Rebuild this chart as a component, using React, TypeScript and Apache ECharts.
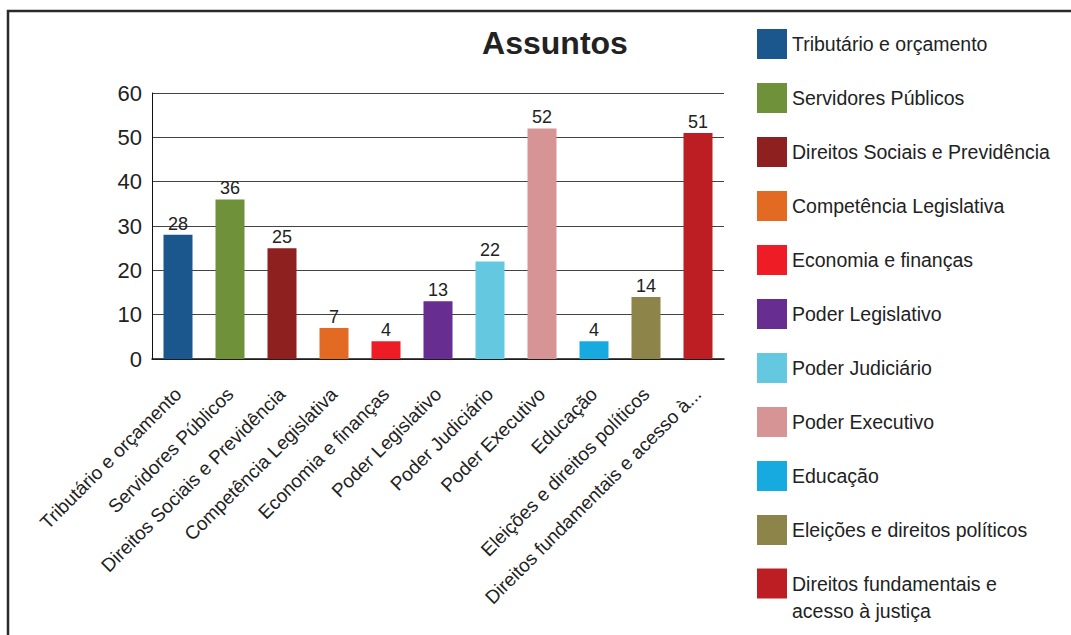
import React, { useEffect, useRef } from "react";
import * as echarts from "echarts";

const categories = [
  "Tributário e orçamento",
  "Servidores Públicos",
  "Direitos Sociais e Previdência",
  "Competência Legislativa",
  "Economia e finanças",
  "Poder Legislativo",
  "Poder Judiciário",
  "Poder Executivo",
  "Educação",
  "Eleições e direitos políticos",
  "Direitos fundamentais e acesso à justiça",
];
const values = [28, 36, 25, 7, 4, 13, 22, 52, 4, 14, 51];
const colors = [
  "#1B578C",
  "#6F9139",
  "#8E2120",
  "#E36A23",
  "#EE1D25",
  "#672D91",
  "#64C8E0",
  "#D69494",
  "#17AAE1",
  "#8D8449",
  "#BD1E23",
];
const yTicks = { min: 0, max: 60, interval: 10 };
const title = "Assuntos";

const FONT = "'Liberation Sans', Arial, Helvetica, sans-serif";

export default function App() {
  const ref = useRef<HTMLDivElement>(null);
  useEffect(() => {
    if (!ref.current) return;
    const chart = echarts.init(ref.current, null, { renderer: "svg" });
    const last = categories[categories.length - 1];
    const series = categories.map((name, i) => ({
      name,
      type: "bar",
      stack: "all",
      barWidth: 29,
      data: values.map((v, j) => (j === i ? v : "-")),
      itemStyle: { color: colors[i] },
      label: {
        show: true,
        position: "top",
        distance: 2,
        fontSize: 18,
        color: "#222",
        fontFamily: FONT,
      },
    }));
    const legendBase = {
      orient: "vertical",
      left: 757,
      padding: 0,
      itemWidth: 30,
      itemHeight: 30,
      itemGap: 24,
      icon: "rect",
      textStyle: { fontSize: 19.5, color: "#222", fontFamily: FONT, lineHeight: 27 },
    };
    chart.setOption({
      animation: false,
      backgroundColor: "#fff",
      textStyle: { fontFamily: FONT },
      title: {
        text: title,
        left: 550,
        textAlign: "center",
        top: 22,
        textStyle: { fontSize: 32, fontWeight: "bold", color: "#222", fontFamily: FONT },
      },
      graphic: [
        {
          type: "polyline",
          shape: { points: [[8, 635], [8, 11], [1071, 11]] },
          style: { stroke: "#2a2a2a", lineWidth: 2.5, fill: "none" },
          silent: true,
        },
      ],
      legend: [
        {
          ...legendBase,
          top: 29,
          data: categories.slice(0, categories.length - 1),
        },
        {
          ...legendBase,
          top: 543,
          data: [last],
          formatter: () => "\nDireitos fundamentais e\nacesso à justiça",
        },
      ],
      grid: { left: 152, right: 347, top: 93, bottom: 276, containLabel: false },
      xAxis: {
        type: "category",
        data: categories,
        axisLine: { lineStyle: { color: "#111", width: 1.5 } },
        axisTick: { show: false },
        axisLabel: {
          rotate: 45,
          interval: 0,
          margin: 32,
          fontSize: 19,
          color: "#222",
          fontFamily: FONT,
          formatter: (v: string) => (v.length > 34 ? v.slice(0, 32) + "..." : v),
        },
      },
      yAxis: {
        type: "value",
        min: yTicks.min,
        max: yTicks.max,
        interval: yTicks.interval,
        axisLine: { show: true, lineStyle: { color: "#111", width: 1 } },
        axisTick: { show: false },
        axisLabel: { fontSize: 22, color: "#222", margin: 10, fontFamily: FONT },
        splitLine: { lineStyle: { color: "#444", width: 1 } },
      },
      series,
    });
    return () => chart.dispose();
  }, []);
  return (
    <div
      ref={ref}
      style={{ position: "fixed", left: 0, top: 0, width: 1071, height: 635 }}
    />
  );
}
